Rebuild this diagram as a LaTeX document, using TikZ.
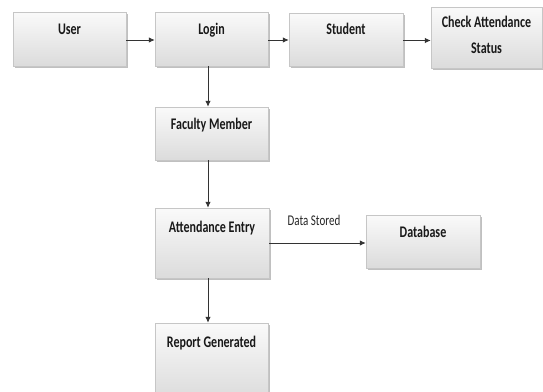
\documentclass[tikz,border=0pt]{standalone}
\usepackage{fontspec}
\usepackage{graphicx}
\setmainfont{Carlito}
\usetikzlibrary{arrows.meta,shadows,calc}
\newcommand\vstretch[1]{\scalebox{1}[1.35]{#1}}
\begin{document}
\begin{tikzpicture}[x=1pt,y=-1pt,
  box/.style={rectangle, draw=gray!45, line width=0.5pt, top color=gray!4, bottom color=gray!28,
    drop shadow={shadow xshift=2pt, shadow yshift=-2pt, fill=gray!70, opacity=0.7},
    minimum width=113pt, minimum height=54pt, inner sep=0pt},
  lbl/.style={anchor=base, inner sep=0pt, font=\bfseries\fontsize{12}{19.3}\selectfont, text=black!90},
  elbl/.style={anchor=base, inner sep=0pt, font=\fontsize{11}{13}\selectfont, text=black!85},
  arr/.style={-{Latex[length=6pt,width=5.5pt]}, line width=0.8pt, draw=black!80}]
\useasboundingbox[fill=white] (0,0) rectangle (543,391);
% boxes
\node[box] (user) at (69.5,39) {};
\node[box] (login) at (211.5,39) {};
\node[box, minimum width=114pt, minimum height=53pt] (student) at (346,39.5) {};
\node[box, minimum width=111pt, minimum height=61pt] (check) at (486.5,37.5) {};
\node[box, minimum height=53pt] (faculty) at (211.5,133.5) {};
\node[box, minimum width=114pt, minimum height=70pt] (attend) at (212,243) {};
\node[box, minimum width=114pt, minimum height=53pt] (db) at (423,241.5) {};
\node[box, minimum height=76pt] (report) at (211.5,361) {};
% labels
\node[lbl] (userT) at ([yshift=-23pt]user.north) {\vstretch{User}};
\node[lbl] (loginT) at ([yshift=-23pt]login.north) {\vstretch{Login}};
\node[lbl] (studentT) at ([yshift=-22pt]student.north) {\vstretch{Student}};
\node[lbl] (checkT) at ([yshift=-21pt]check.north) {\vstretch{\begin{tabular}[t]{@{}c@{}}Check Attendance\\Status\end{tabular}}};
\node[lbl] (facultyT) at ([yshift=-23pt]faculty.north) {\vstretch{Faculty Member}};
\node[lbl] (attendT) at ([yshift=-25pt]attend.north) {\vstretch{Attendance Entry}};
\node[lbl] (dbT) at ([yshift=-23pt]db.north) {\vstretch{Database}};
\node[lbl] (reportT) at ([yshift=-25pt]report.north) {\vstretch{Report Generated}};
\node[elbl] (dsT) at (314,225) {\vstretch{Data Stored}};
% connectors
\draw[arr] ([yshift=-1pt]user.east) -- ([yshift=-1pt]login.west);
\draw[arr] ([yshift=-1pt]login.east) -- ([yshift=-1pt]login.east -| student.west);
\draw[arr] ([yshift=-1pt]student.east) -- ([yshift=-1pt]student.east -| check.west);
\draw[arr] ([xshift=-3.5pt]login.south) -- ([xshift=-3.5pt]faculty.north);
\draw[arr] ([xshift=-3.5pt]faculty.south) -- ([xshift=-4pt]attend.north);
\draw[arr] ([xshift=-4pt]attend.south) -- ([xshift=-3.5pt]report.north);
\draw[arr] (attend.east) -- (attend.east -| db.west);
\end{tikzpicture}
\end{document}
